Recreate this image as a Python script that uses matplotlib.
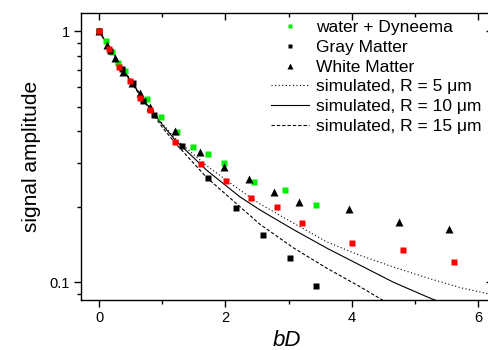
import matplotlib
matplotlib.use("Agg")
import matplotlib.pyplot as plt
from matplotlib.ticker import FixedLocator, NullFormatter, FixedFormatter

plt.rcParams['font.family'] = ['Liberation Sans', 'DejaVu Sans']

# water + Dyneema (green squares)
green_x = [0, 0.11, 0.21, 0.305, 0.41, 0.755, 0.98, 1.23, 1.48, 1.73, 1.97, 2.46, 2.95, 3.44]
green_y = [1.0, 0.915, 0.825, 0.751, 0.697, 0.536, 0.457, 0.398, 0.347, 0.324, 0.300, 0.252, 0.234, 0.203]

# Gray Matter (black squares)
gray_x = [0, 0.18, 0.36, 0.53, 0.7, 0.875, 1.31, 1.73, 2.16, 2.59, 3.02, 3.44]
gray_y = [1.0, 0.835, 0.71, 0.62, 0.53, 0.466, 0.350, 0.260, 0.198, 0.154, 0.125, 0.097]

# White Matter (black triangles)
white_x = [0, 0.12, 0.25, 0.38, 0.52, 0.65, 0.8, 1.2, 1.59, 1.98, 2.38, 2.77, 3.16, 3.96, 4.75, 5.54]
white_y = [1.0, 0.88, 0.78, 0.69, 0.621, 0.569, 0.501, 0.401, 0.331, 0.289, 0.258, 0.230, 0.208, 0.196, 0.174, 0.163]

# unlabeled red squares
red_x = [0, 0.16, 0.32, 0.49, 0.65, 0.81, 1.21, 1.62, 2.01, 2.41, 2.81, 3.21, 4.01, 4.81, 5.61]
red_y = [1.0, 0.848, 0.723, 0.634, 0.541, 0.486, 0.361, 0.297, 0.253, 0.216, 0.199, 0.172, 0.143, 0.135, 0.120]

# simulated curves
sim_x = [0, 0.25, 0.5, 0.75, 1.0, 1.2, 1.7, 2.23, 2.55, 3.08, 3.6, 4.13, 4.66, 5.2, 5.73, 6.25]
sim_r5 = [1.0, 0.80, 0.64, 0.52, 0.43, 0.375, 0.292, 0.233, 0.205, 0.172, 0.145, 0.128, 0.115, 0.104, 0.095, 0.089]
sim_r10 = [1.0, 0.80, 0.635, 0.515, 0.425, 0.37, 0.280, 0.219, 0.194, 0.162, 0.137, 0.117, 0.100, 0.0873, 0.077, 0.070]
sim_r15 = [1.0, 0.80, 0.63, 0.51, 0.415, 0.36, 0.262, 0.200, 0.170, 0.137, 0.114, 0.096, 0.080, 0.068, 0.060, 0.055]

x_major = [0, 2, 4, 6]
x_minor = [1, 3, 5]
y_major = [0.1, 1]
y_major_labels = ['0.1', '1']
y_minor = [0.09, 0.2, 0.3, 0.4, 0.5, 0.6, 0.7, 0.8, 0.9]

x_left, x_right = -0.285, 6.24
fig = plt.figure(figsize=(4.88, 3.5), dpi=100)
ax_w_px = 63.2 * (x_right - x_left)
ax = fig.add_axes([81/488, 50.5/350, ax_w_px/488, 286.8/350])

lw = 0.8
l5, = ax.plot(sim_x, sim_r5, color='black', lw=lw, ls=(0, (1, 2.2)), label='simulated, R = 5 μm', zorder=2)
l10, = ax.plot(sim_x, sim_r10, color='black', lw=lw, ls='-', label='simulated, R = 10 μm', zorder=2)
l15, = ax.plot(sim_x, sim_r15, color='black', lw=lw, ls=(0, (3, 1.8)), label='simulated, R = 15 μm', zorder=2)

ms = 5
g, = ax.plot(green_x, green_y, 's', color='#00ee00', ms=ms, mec='none', label='water + Dyneema', zorder=3)
b, = ax.plot(gray_x, gray_y, 's', color='black', ms=ms, mec='none', label='Gray Matter', zorder=4)
t, = ax.plot(white_x, white_y, '^', color='black', ms=6, mec='none', label='White Matter', zorder=4)
ax.plot(red_x, red_y, 's', color='#ff0000', ms=ms, mec='none', zorder=5)

ax.set_yscale('log')
ax.set_xlim(x_left, x_right)
ax.set_ylim(0.0854, 1.186)

ax.xaxis.set_major_locator(FixedLocator(x_major))
ax.xaxis.set_minor_locator(FixedLocator(x_minor))
ax.yaxis.set_major_locator(FixedLocator(y_major))
ax.yaxis.set_major_formatter(FixedFormatter(y_major_labels))
ax.yaxis.set_minor_locator(FixedLocator(y_minor))
ax.yaxis.set_minor_formatter(NullFormatter())

ax.tick_params(axis='both', which='major', labelsize=10.5, length=5, width=1, direction='out', pad=3)
ax.tick_params(axis='both', which='minor', length=3, width=1, direction='out')
ax.tick_params(axis='x', which='both', top=True)
ax.tick_params(axis='y', which='both', right=True)
for tk in ax.xaxis.get_major_ticks() + ax.xaxis.get_minor_ticks():
    tk.tick2line.set_marker(3)  # top ticks pointing inward (down)
for tk in ax.yaxis.get_major_ticks() + ax.yaxis.get_minor_ticks():
    tk.tick2line.set_marker(0)  # right ticks pointing inward (left)

for s in ax.spines.values():
    s.set_linewidth(1.0)

ax.set_xlabel('bD', fontsize=16, style='italic', labelpad=4)
ax.set_ylabel('signal amplitude', fontsize=15, labelpad=6)

leg = ax.legend(handles=[g, b, t, l5, l10, l15], loc='upper right',
                bbox_to_anchor=(0.997, 1.01), frameon=False, fontsize=12.5,
                labelspacing=0.26, handlelength=2.2, handletextpad=0.4,
                markerscale=0.7, borderaxespad=0.2)

fig.savefig('out.png', dpi=100)
